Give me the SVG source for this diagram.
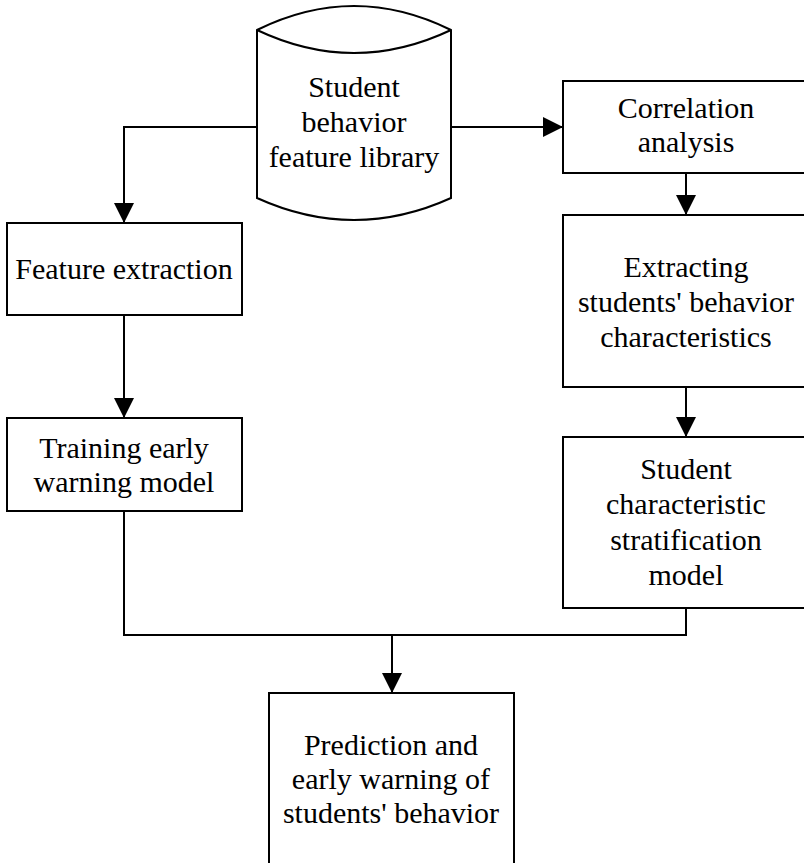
<svg xmlns="http://www.w3.org/2000/svg" width="804" height="863" viewBox="0 0 804 863">
<style>
.box{fill:#fff;stroke:#000;stroke-width:2}
.ln{fill:none;stroke:#000;stroke-width:2}
text{font-family:"Liberation Serif","Times New Roman",serif;font-size:30px;fill:#000;text-anchor:middle}
</style>
<defs>
<marker id="ah" markerWidth="20" markerHeight="20" refX="20" refY="10" orient="auto" markerUnits="userSpaceOnUse">
<path d="M0,0 L20,10 L0,20 Z" fill="#000"/>
</marker>
</defs>
<rect width="804" height="863" fill="#fff"/>
<g id="connectors">
<path class="ln" d="M258,127 H124 V223" marker-end="url(#ah)"/>
<path class="ln" d="M451,127 H563" marker-end="url(#ah)"/>
<path class="ln" d="M686,173 V215" marker-end="url(#ah)"/>
<path class="ln" d="M686,387 V437" marker-end="url(#ah)"/>
<path class="ln" d="M124,315 V418" marker-end="url(#ah)"/>
<path class="ln" d="M124,511 V635 H686 V608"/>
<path class="ln" d="M392,635 V693" marker-end="url(#ah)"/>
</g>
<g id="library">
<path class="box" d="M257,30 Q354,-18 451,30 V198 Q354,242 257,198 Z"/>
<path class="ln" d="M257,30 Q354,76 451,30"/>
<text x="354" y="97">Student</text>
<text x="354" y="132">behavior</text>
<text x="354" y="167">feature library</text>
</g>
<g id="correlation">
<rect class="box" x="563" y="81" width="246" height="92"/>
<text x="686" y="118">Correlation</text>
<text x="686" y="152">analysis</text>
</g>
<g id="extracting">
<rect class="box" x="563" y="215" width="246" height="172"/>
<text x="686" y="277">Extracting</text>
<text x="686" y="312">students' behavior</text>
<text x="686" y="347">characteristics</text>
</g>
<g id="stratification">
<rect class="box" x="563" y="437" width="246" height="171"/>
<text x="686" y="479">Student</text>
<text x="686" y="514">characteristic</text>
<text x="686" y="550">stratification</text>
<text x="686" y="585">model</text>
</g>
<g id="feature">
<rect class="box" x="7" y="223" width="235" height="92"/>
<text x="124" y="279">Feature extraction</text>
</g>
<g id="training">
<rect class="box" x="7" y="418" width="235" height="93"/>
<text x="124" y="458">Training early</text>
<text x="124" y="492">warning model</text>
</g>
<g id="prediction">
<rect class="box" x="269" y="693" width="245" height="190"/>
<text x="391" y="755">Prediction and</text>
<text x="391" y="789">early warning of</text>
<text x="391" y="823">students' behavior</text>
</g>
</svg>
